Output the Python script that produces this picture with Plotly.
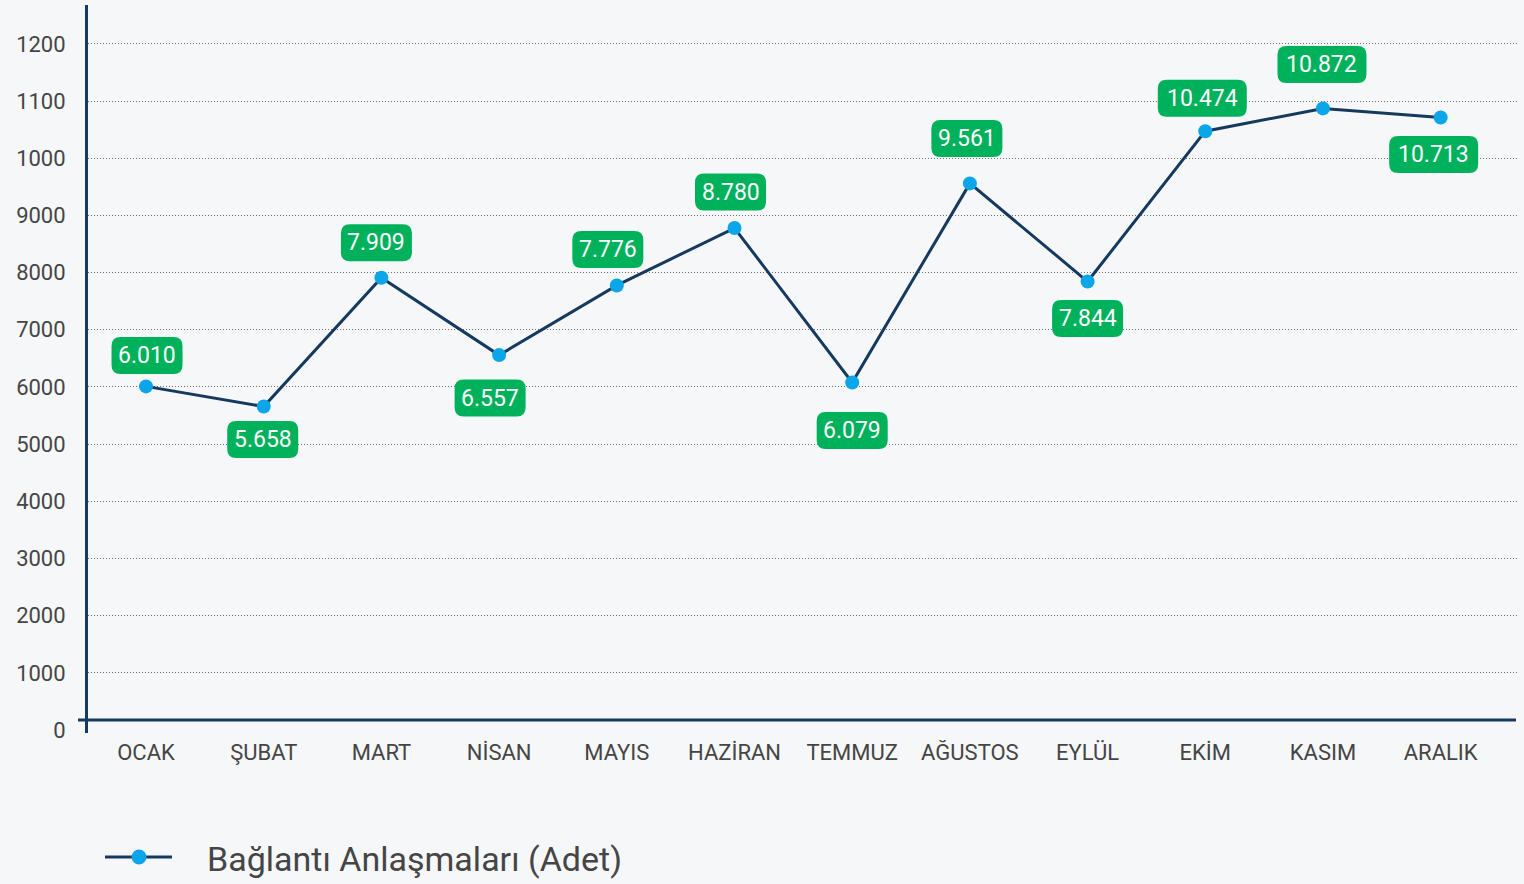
import plotly.graph_objects as go

# ---------------- data ----------------
months = ["OCAK", "ŞUBAT", "MART", "NİSAN", "MAYIS", "HAZİRAN",
          "TEMMUZ", "AĞUSTOS", "EYLÜL", "EKİM", "KASIM", "ARALIK"]
values = [6010, 5658, 7909, 6557, 7776, 8780, 6079, 9561, 7844, 10474, 10872, 10713]
value_labels = ["6.010", "5.658", "7.909", "6.557", "7.776", "8.780",
                "6.079", "9.561", "7.844", "10.474", "10.872", "10.713"]
y_tickvals = [0, 1000, 2000, 3000, 4000, 5000, 6000, 7000, 8000, 9000, 10000, 11000, 12000]
y_ticktext = ["0", "1000", "2000", "3000", "4000", "5000", "6000", "7000",
              "8000", "9000", "1000", "1100", "1200"]
series_name = "Bağlantı Anlaşmaları (Adet)"

# ---------------- style / placement ----------------
label_dy = [31, -33, 35, -43, 36, 36, -48, 45, -37, 33, 44, -37]   # px, + = above point
label_dx = [1, -1, -5, -9, -9, -4, 0, -3, 0, -3, -1, -7]           # px
NAVY = "#163a5f"
BLUE = "#0ba6ea"
GREEN = "#00b15c"
TEXT = "#454545"
BG = "#f6f7f8"
FONT = "Roboto"

W, H = 1524, 884
ML, MR, MT, MB = 88, 6, 5, 151
PW = W - ML - MR
PH = H - MT - MB


def px_to_paper_x(px):
    return (px - ML) / PW


def px_to_paper_y(py):
    return (H - MB - py) / PH


x_idx = list(range(len(months)))

fig = go.Figure()
fig.add_trace(go.Scatter(
    x=x_idx, y=values, mode="lines+markers",
    line=dict(color=NAVY, width=3),
    marker=dict(size=14, color=BLUE, line=dict(width=0)),
    cliponaxis=False, showlegend=False, name=series_name,
))


def rounded_path(cx, cy, w, h, r):
    x0, x1 = cx - w / 2, cx + w / 2
    y0, y1 = cy - h / 2, cy + h / 2
    return (f"M {x0 + r},{y0} L {x1 - r},{y0} Q {x1},{y0} {x1},{y0 + r} "
            f"L {x1},{y1 - r} Q {x1},{y1} {x1 - r},{y1} L {x0 + r},{y1} "
            f"Q {x0},{y1} {x0},{y1 - r} L {x0},{y0 + r} Q {x0},{y0} {x0 + r},{y0} Z")


shapes = []
annotations = []
for i, (v, t) in enumerate(zip(values, value_labels)):
    bw = 18 * len(t) - 19
    bh = 37
    shapes.append(dict(
        type="path", xref="x", yref="y", xsizemode="pixel", ysizemode="pixel",
        xanchor=i, yanchor=v, path=rounded_path(label_dx[i], label_dy[i], bw, bh, 9),
        fillcolor=GREEN, line=dict(width=0), layer="above",
    ))
    annotations.append(dict(
        x=i, y=v, xref="x", yref="y", text=t, showarrow=False,
        xshift=label_dx[i], yshift=label_dy[i],
        font=dict(family=FONT, size=23, color="white"),
    ))

# x-axis baseline (drawn slightly above zero, extending left past the y axis)
shapes.append(dict(type="line", xref="paper", yref="paper",
                   x0=px_to_paper_x(78), x1=px_to_paper_x(1516),
                   y0=px_to_paper_y(720), y1=px_to_paper_y(720),
                   line=dict(color=NAVY, width=3), layer="above"))

# custom legend
ly = px_to_paper_y(857)
shapes.append(dict(type="line", xref="paper", yref="paper",
                   x0=px_to_paper_x(105), x1=px_to_paper_x(172), y0=ly, y1=ly,
                   line=dict(color=NAVY, width=3)))
shapes.append(dict(type="circle", xref="paper", yref="paper",
                   xsizemode="pixel", ysizemode="pixel",
                   xanchor=px_to_paper_x(139), yanchor=ly,
                   x0=-7.5, x1=7.5, y0=-7.5, y1=7.5,
                   fillcolor=BLUE, line=dict(width=0)))
annotations.append(dict(x=px_to_paper_x(205), y=px_to_paper_y(859), xref="paper", yref="paper",
                        text=series_name, showarrow=False, xanchor="left", yanchor="middle",
                        font=dict(family=FONT, size=34, color=TEXT)))

fig.update_layout(
    width=W, height=H,
    margin=dict(l=ML, r=MR, t=MT, b=MB),
    paper_bgcolor=BG, plot_bgcolor=BG,
    font=dict(family=FONT, color=TEXT),
    shapes=shapes, annotations=annotations,
    showlegend=False,
)
fig.update_xaxes(
    range=[-0.493, 11.657],
    tickvals=x_idx, ticktext=months,
    showgrid=False, zeroline=False, showline=False,
    ticks="outside", ticklen=0, tickcolor="rgba(0,0,0,0)",
    tickfont=dict(family=FONT, size=22, color=TEXT),
)
fig.update_yaxes(
    range=[-52.5, 12681],
    tickvals=y_tickvals, ticktext=y_ticktext,
    showline=True, linecolor=NAVY, linewidth=3,
    showgrid=True, gridcolor="#6f6f6f", gridwidth=1, griddash="1px,2px",
    zeroline=True, zerolinecolor="rgba(0,0,0,0)",
    ticks="outside", ticklen=15, tickcolor="rgba(0,0,0,0)",
    tickfont=dict(family=FONT, size=22, color=TEXT),
)

fig.write_html(
    "out.html",
    config={"displayModeBar": False},
    post_script="document.body.style.margin='0';document.body.style.background='" + BG + "';",
)
